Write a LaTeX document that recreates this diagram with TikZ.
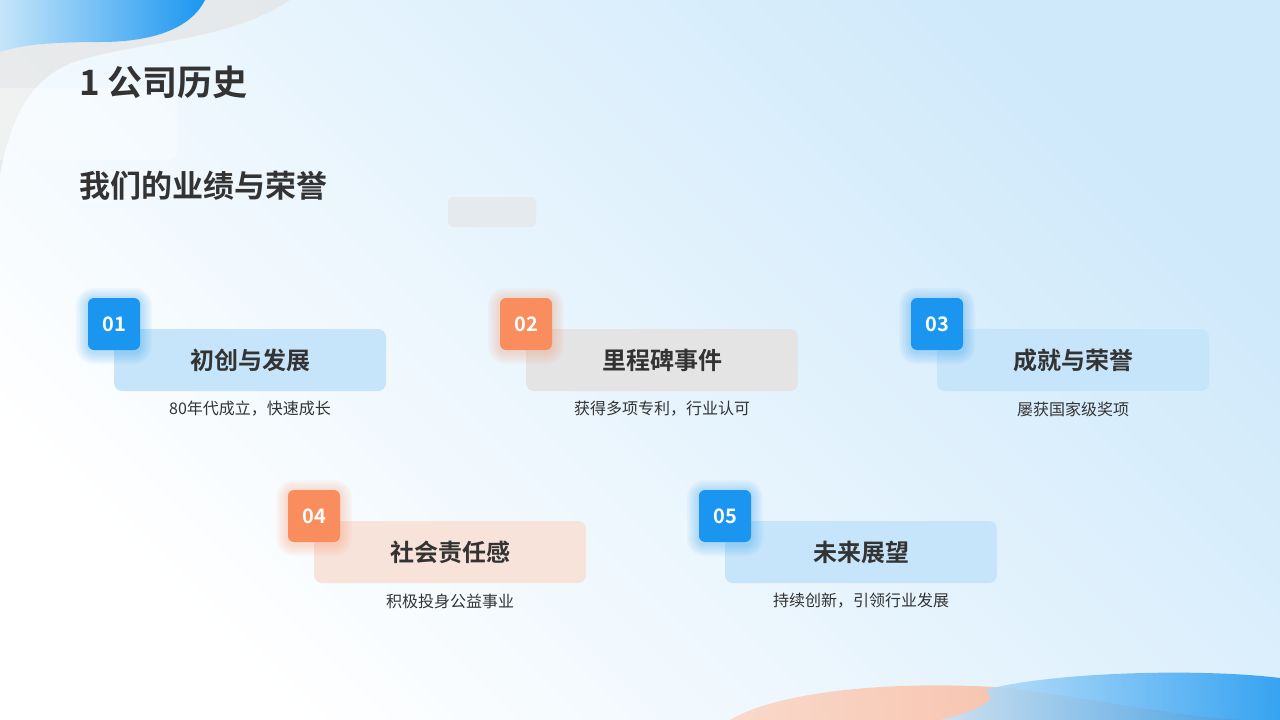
\documentclass[tikz,border=0pt]{standalone}
\usepackage{fontspec}
\setmainfont{Noto Sans CJK SC}
\newfontfamily\cjkb{Noto Sans CJK SC Bold}
\definecolor{bblue}{HTML}{1A96F0}
\definecolor{borange}{HTML}{F98D5E}
\definecolor{lblue}{HTML}{C6E5FA}
\definecolor{lgray}{HTML}{E4E4E4}
\definecolor{lorange}{HTML}{F7E3DA}
\definecolor{txt}{HTML}{333333}
\tikzset{
 badge/.style={rounded corners=6pt,minimum width=52pt,minimum height=52pt,text=white,font=\cjkb\fontsize{20}{20}\selectfont,inner sep=0pt},
 cardbox/.style={rounded corners=8pt,minimum width=272pt,minimum height=62pt,text=txt,font=\cjkb\fontsize{24}{24}\selectfont,inner sep=0pt},
 sub/.style={text=txt,font=\fontsize{16}{16}\selectfont,inner sep=0pt}
}
\begin{document}
\begin{tikzpicture}[x=1pt,y=-1pt]
\useasboundingbox (0,0) rectangle (1280,720);
\shade[left color=white,right color=lblue!85!white,shading angle=135] (0,0) rectangle (1280,720);
% top-left decorations
\fill[lgray,opacity=0.7] (0,0) -- (290,0) .. controls (230,40) and (150,40) .. (80,60) .. controls (30,75) and (10,120) .. (0,175) -- cycle;
\shade[left color=lblue,right color=bblue] (0,0) -- (205,0) .. controls (190,30) and (150,42) .. (100,42) .. controls (50,42) and (20,45) .. (0,52) -- cycle;
\fill[white,opacity=0.35,rounded corners=10pt] (-20,88) rectangle (178,160);
\fill[lgray,opacity=0.6,rounded corners=5pt] (448,197) rectangle (536,227);
% bottom decorations
\shade[left color=white!60!borange,right color=borange!80!white,opacity=0.8] (730,720) .. controls (780,690) and (900,680) .. (1010,688) .. controls (1100,700) and (1200,720) .. (1250,720) -- cycle;
\shade[left color=lblue,right color=bblue,opacity=0.85] (985,690) .. controls (1050,672) and (1200,668) .. (1280,678) -- (1280,720) -- (940,720) .. controls (980,710) and (1000,700) .. (985,690) -- cycle;
% titles
\node[anchor=west,text=txt,font=\cjkb\fontsize{35}{35}\selectfont,inner sep=0pt] (t1) at (79,82) {1 公司历史};
\node[anchor=west,text=txt,font=\cjkb\fontsize{31}{31}\selectfont,inner sep=0pt] (t2) at (79,186) {我们的业绩与荣誉};
% cards
\foreach \n/\bx/\by/\bc/\fc/\ti/\st in {
 01/88/298/bblue/lblue/初创与发展/{80年代成立，快速成长},
 02/500/298/borange/lgray/里程碑事件/{获得多项专利，行业认可},
 03/911/298/bblue/lblue/成就与荣誉/{屡获国家级奖项},
 04/288/490/borange/lorange/社会责任感/{积极投身公益事业},
 05/699/490/bblue/lblue/未来展望/{持续创新，引领行业发展}}{
 \node[cardbox,fill=\fc] (box\n) at (\bx+162,\by+62) {\ti};
 \foreach \r in {2,4,...,12}{
  \fill[\bc,opacity=0.05,rounded corners=6pt+\r] (\bx-\r,\by-\r+2) rectangle (\bx+52+\r,\by+52+\r+2);
 }
 \node[badge,fill=\bc] (badge\n) at (\bx+26,\by+26) {\n};
 \node[sub] (sub\n) at (\bx+162,\by+111) {\st};
}
\end{tikzpicture}
\end{document}
